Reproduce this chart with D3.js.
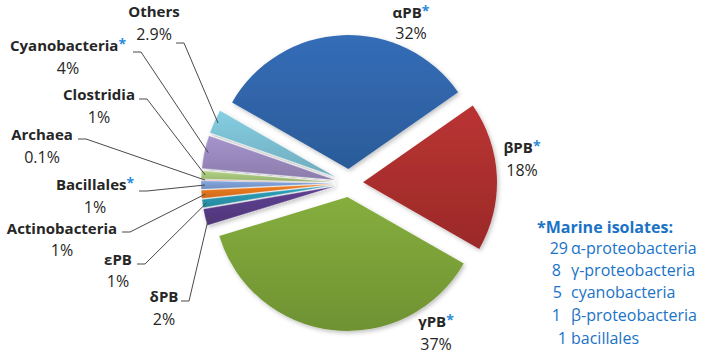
<!DOCTYPE html>
<html>
<head>
<meta charset="utf-8">
<script src="https://cdn.jsdelivr.net/npm/d3@7"></script>
<style>
  body { margin: 0; background: #fff; }
  svg { display: block; }
  text { font-family: "Open Sans", "DejaVu Sans", sans-serif; fill: #262626; }
</style>
</head>
<body>
<div id="chart"></div>
<script>
// Data
const names = ["αPB", "βPB", "γPB", "δPB", "εPB", "Actinobacteria", "Bacillales", "Archaea", "Clostridia", "Cyanobacteria", "Others"];
const values = [32, 18, 37, 2, 1, 1, 1, 0.1, 1, 4, 2.9];
const pctLabels = ["32%", "18%", "37%", "2%", "1%", "1%", "1%", "0.1%", "1%", "4%", "2.9%"];
const marine = [true, true, true, false, false, false, true, false, false, true, false];

const legendTitle = "*Marine isolates:";
const legendCounts = ["29", "8", "5", "1", "1"];
const legendTaxa = ["α-proteobacteria", "γ-proteobacteria", "cyanobacteria", "β-proteobacteria", "bacillales"];

// Styles / layout
const colors = ["#3167ad", "#b0302f", "#7ea53a", "#5a3d8a", "#2c9bb4", "#e8781c", "#7d9fd6", "#d98686", "#a9c97d", "#9d8cc2", "#7ec3d6"];
const labelPos = [
  { x: 411, y: 18, dy: 21 },
  { x: 522, y: 153, dy: 23 },
  { x: 436, y: 327, dy: 23 },
  { x: 164, y: 302, dy: 23, lx: 181, ly: 301 },
  { x: 118, y: 265, dy: 22, lx: 137, ly: 264 },
  { x: 62, y: 234, dy: 22, lx: 122, ly: 232 },
  { x: 95, y: 190, dy: 23, lx: 139, ly: 191 },
  { x: 42, y: 140, dy: 23, lx: 78, ly: 139 },
  { x: 99, y: 100, dy: 23, lx: 139, ly: 99 },
  { x: 68, y: 51, dy: 23, lx: 133, ly: 52 },
  { x: 154, y: 17, dy: 23, lx: 176, ly: 43 }
];
const legendX = 537, legendY = 233, legendRowY = [254, 276, 298, 321, 344];
const countEndX = [568, 561, 562, 561, 567], taxaX = 571;

const W = 709, H = 356;
const cx = 349, cy = 183, radius = 134, explode = 14;
const starAngle = -60.2 * Math.PI / 180;

const svg = d3.select("#chart")
  .append("svg")
  .attr("width", W)
  .attr("height", H);

const defs = svg.append("defs");

// Soft shadow
const shadow = defs.append("filter")
  .attr("id", "shadow")
  .attr("x", "-20%").attr("y", "-20%")
  .attr("width", "140%").attr("height", "140%");
shadow.append("feDropShadow")
  .attr("dx", 1.5).attr("dy", 2)
  .attr("stdDeviation", 2)
  .attr("flood-color", "#000")
  .attr("flood-opacity", 0.25);

// Gradient per slice
colors.forEach((c, i) => {
  const g = defs.append("linearGradient")
    .attr("id", "grad" + i)
    .attr("x1", 0).attr("y1", 0)
    .attr("x2", 0).attr("y2", 1);
  g.append("stop").attr("offset", "0%").attr("stop-color", d3.color(c).brighter(0.15));
  g.append("stop").attr("offset", "100%").attr("stop-color", d3.color(c).darker(0.35));
});

const pie = d3.pie()
  .sort(null)
  .value(d => d)
  .startAngle(starAngle)
  .endAngle(starAngle + 2 * Math.PI);

const arcs = pie(values);

const arc = d3.arc()
  .innerRadius(0)
  .outerRadius(radius);

function offset(d) {
  const mid = (d.startAngle + d.endAngle) / 2;
  return [explode * Math.sin(mid), -explode * Math.cos(mid)];
}

const pieG = svg.append("g")
  .attr("transform", `translate(${cx},${cy})`)
  .attr("filter", "url(#shadow)");

pieG.selectAll(".slice")
  .data(arcs)
  .enter()
  .append("path")
  .attr("class", "slice")
  .attr("transform", d => `translate(${offset(d)[0]},${offset(d)[1]})`)
  .attr("d", arc)
  .attr("fill", (d, i) => `url(#grad${i})`)
  .attr("stroke", "#ffffff")
  .attr("stroke-opacity", 0.6)
  .attr("stroke-width", (d, i) => i >= 3 ? 0.5 : 0);

// Leader lines for the small slices
const leaders = svg.append("g")
  .attr("fill", "none")
  .attr("stroke", "#4a4a4a")
  .attr("stroke-width", 1);

arcs.forEach((d, i) => {
  const p = labelPos[i];
  if (p.lx === undefined) return;
  const mid = (d.startAngle + d.endAngle) / 2;
  const o = offset(d);
  const r = radius - 4;
  const ex = cx + o[0] + r * Math.sin(mid);
  const ey = cy + o[1] - r * Math.cos(mid);
  leaders.append("path")
    .attr("d", d3.line()([[p.lx, p.ly], [p.lx + 8, p.ly], [ex, ey]]));
});

// Labels
const labels = svg.append("g");
names.forEach((n, i) => {
  const p = labelPos[i];
  const t = labels.append("text")
    .attr("x", p.x)
    .attr("y", p.y)
    .attr("text-anchor", "middle")
    .attr("font-size", 15)
    .attr("font-weight", "bold");
  t.append("tspan").text(n);
  if (marine[i]) {
    t.append("tspan")
      .attr("dy", -2)
      .attr("font-size", 14)
      .style("fill", "#2a8bd8")
      .text("*");
  }
  labels.append("text")
    .attr("x", p.x)
    .attr("y", p.y + p.dy)
    .attr("text-anchor", "middle")
    .attr("font-size", 16)
    .text(pctLabels[i]);
});

// Marine isolates note
const note = svg.append("g")
  .attr("font-size", 16);

note.append("text")
  .attr("x", legendX)
  .attr("y", legendY)
  .attr("font-weight", "bold")
  .style("fill", "#1a73c6")
  .text(legendTitle);

legendCounts.forEach((c, i) => {
  note.append("text")
    .attr("x", countEndX[i])
    .attr("y", legendRowY[i])
    .attr("text-anchor", "end")
    .style("fill", "#1a73c6")
    .text(c);
  note.append("text")
    .attr("x", taxaX)
    .attr("y", legendRowY[i])
    .style("fill", "#1a73c6")
    .text(legendTaxa[i]);
});
</script>
</body>
</html>
